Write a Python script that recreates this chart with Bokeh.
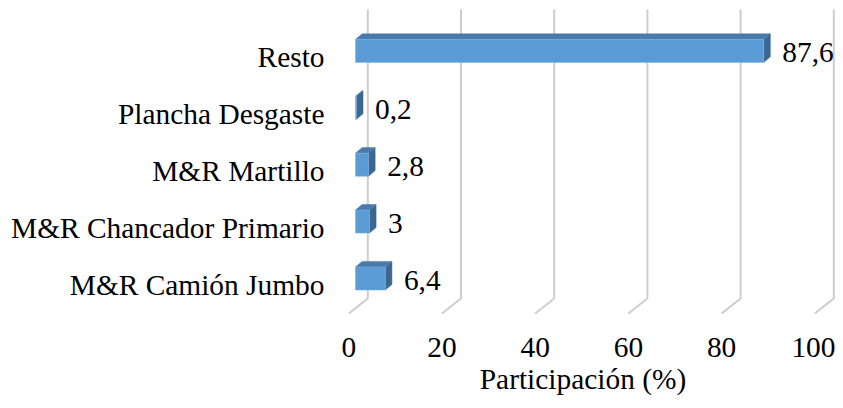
from bokeh.plotting import figure
from bokeh.models import Range1d, FixedTicker, ColumnDataSource
from bokeh.core.properties import value
from bokeh.embed import file_html
from bokeh.resources import INLINE

categories = ["M&R Camión Jumbo", "M&R Chancador Primario", "M&R Martillo",
              "Plancha Desgaste", "Resto"]
values = [6.4, 3.0, 2.8, 0.2, 87.6]
value_labels = ["6,4", "3", "2,8", "0,2", "87,6"]
x_ticks = [0, 20, 40, 60, 80, 100]
x_title = "Participación (%)"

FONT = "Liberation Serif"
FSIZE = "29.4px"
FRONT = "#5b9bd5"
TOP = "#4a7aab"
SIDE = "#3b6791"
GRID = "#cdcdcd"

W, H = 835, 400
LEFT, TOPB, BOTTOM = 330, 0, 82
FW, FH = W - LEFT, H - TOPB - BOTTOM

PXU_X = 4.66    # px per percent
PXU_Y = 56.9    # px per category
x_start = -18.3 / PXU_X
x_end = x_start + FW / PXU_X
y_end = 284 / PXU_Y
y_start = y_end - FH / PXU_Y

# 3D geometry (pixel sizes turned into data units)
DX, DY = 19.0 / PXU_X, 15.0 / PXU_Y          # floor depth
FLOOR_Y = -29.0 / PXU_Y                       # front edge of floor
TOP_Y = 275.0 / PXU_Y                         # top of back wall
BFX, BFY = 6.7 / PXU_X, 6.0 / PXU_Y           # bar front plane offset
BDX, BDY = 6.6 / PXU_X, 5.6 / PXU_Y           # bar depth
HALF = 11.5 / PXU_Y                           # half bar height

p = figure(width=W, height=H, output_backend="svg", toolbar_location=None,
           x_range=Range1d(x_start, x_end), y_range=Range1d(y_start, y_end),
           min_border_left=LEFT, min_border_right=0, min_border_top=TOPB,
           min_border_bottom=BOTTOM)
p.outline_line_color = None
p.grid.visible = False
p.background_fill_color = "white"
p.border_fill_color = "white"

# gridlines on back wall + floor
gx, gy = [], []
for t in x_ticks:
    gx.append([t, t + DX, t + DX])
    gy.append([FLOOR_Y, FLOOR_Y + DY, TOP_Y])
p.multi_line(gx, gy, line_color=GRID, line_width=2)

# bars
ys = list(range(len(categories)))
yc = [y + BFY for y in ys]
left = [BFX] * len(values)
right = [BFX + v for v in values]

tops_x, tops_y, sides_x, sides_y = [], [], [], []
for c, r in zip(yc, right):
    yt, yb = c + HALF, c - HALF
    tops_x.append([BFX, r, r + BDX, BFX + BDX])
    tops_y.append([yt, yt, yt + BDY, yt + BDY])
    sides_x.append([r, r, r + BDX, r + BDX])
    sides_y.append([yb, yt, yt + BDY, yb + BDY])

p.patches(sides_x, sides_y, fill_color=SIDE, line_color=SIDE, line_width=0.5)
p.patches(tops_x, tops_y, fill_color=TOP, line_color=TOP, line_width=0.5)
p.hbar(y=yc, left=left, right=right, height=2 * HALF, fill_color=FRONT,
       line_color="#7fb3e0", line_width=0.6)

# data labels
src = ColumnDataSource(dict(x=[r + BDX for r in right], y=yc, t=value_labels))
p.text(x="x", y="y", text="t", source=src, text_font=value(FONT),
       text_font_size=FSIZE, text_color="black", text_align="left",
       text_baseline="middle", x_offset=12, y_offset=2)

# axes
p.xaxis.ticker = FixedTicker(ticks=x_ticks)
p.yaxis.ticker = FixedTicker(ticks=ys)
p.yaxis.major_label_overrides = {i: c for i, c in enumerate(categories)}
for ax in (p.xaxis, p.yaxis):
    ax.axis_line_color = None
    ax.major_tick_line_color = None
    ax.minor_tick_line_color = None
    ax.major_tick_out = 0
    ax.major_tick_in = 0
    ax.major_label_text_font = FONT
    ax.major_label_text_font_size = FSIZE
    ax.major_label_text_color = "black"
p.yaxis.major_label_standoff = 6
p.xaxis.major_label_standoff = 19
p.xaxis.axis_label = x_title
p.xaxis.axis_label_text_font = FONT
p.xaxis.axis_label_text_font_size = FSIZE
p.xaxis.axis_label_text_font_style = "normal"
p.xaxis.axis_label_text_color = "black"
p.xaxis.axis_label_standoff = 3

open("out.html", "w").write(file_html(p, INLINE))
